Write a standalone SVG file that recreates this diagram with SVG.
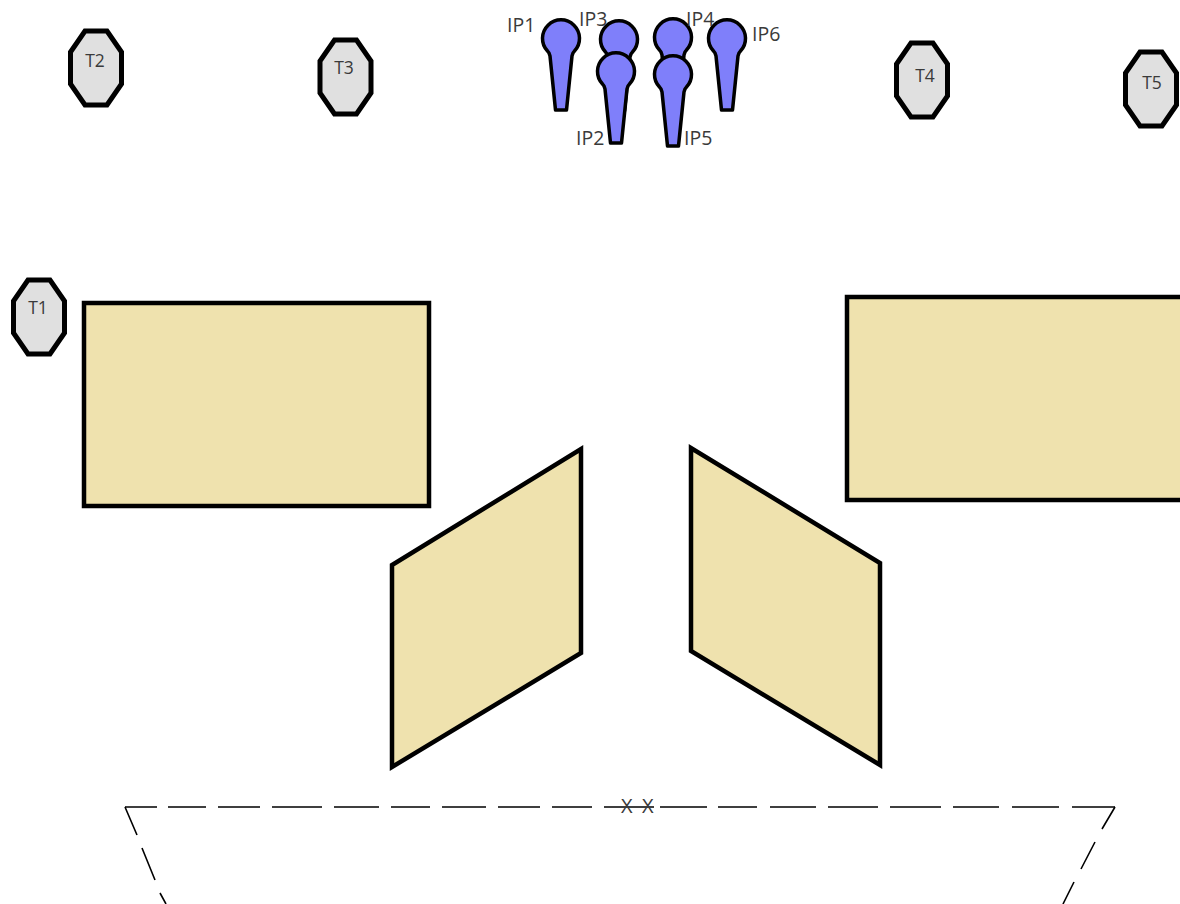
<svg xmlns="http://www.w3.org/2000/svg" width="1180" height="904" viewBox="0 0 1180 904">
<defs>
<style>
text{font-family:"Open Sans","Noto Sans","Liberation Sans",sans-serif;font-size:17.500px;fill:#3a3a3a}
.ip{font-size:19.500px}
.x{font-size:20px}
.oct{fill:#e0e0e0;stroke:#000;stroke-width:5}
.tbl{fill:#efe2ae;stroke:#000;stroke-width:4.5}
.mic{fill:#7f7ffa;stroke:#000;stroke-width:3.500;stroke-linejoin:round}
.dash{fill:none;stroke:#000;stroke-width:1.600}
</style>
<polygon id="o" class="oct" points="-11,-37 11,-37 25.500,-16 25.500,16 11,37 -11,37 -25.500,16 -25.500,-16"/>
<path id="m1" class="mic" d="M-11,18 L-12,15 L-13.500,13 A18.500,18.500 0 1 1 13.500,13 L12,15 L11,18 L5.500,72 L-5.500,72 Z"/>
</defs>
<rect width="1180" height="904" fill="#fff"/>
<g id="T2"><use href="#o" x="96" y="68"/><text x="95" y="67" text-anchor="middle">T2</text></g>
<g id="T3"><use href="#o" x="345.500" y="77"/><text x="344" y="74" text-anchor="middle">T3</text></g>
<g id="T4"><use href="#o" x="922" y="80"/><text x="925" y="82" text-anchor="middle">T4</text></g>
<g id="T5"><use href="#o" x="1151" y="89"/><text x="1152" y="89" text-anchor="middle">T5</text></g>
<g id="T1"><use href="#o" x="39" y="317"/><text x="38" y="314" text-anchor="middle">T1</text></g>
<g id="IP3"><use href="#m1" x="619" y="39"/></g>
<g id="IP4"><use href="#m1" x="673" y="37"/></g>
<g id="IP1"><use href="#m1" x="561" y="38"/><text class="ip" x="507" y="32">IP1</text></g>
<g id="IP6"><use href="#m1" x="727" y="38"/><text class="ip" x="752" y="41">IP6</text></g>
<g id="IP2"><use href="#m1" x="616" y="71"/></g>
<g id="IP5"><use href="#m1" x="673" y="74"/></g>
<text class="ip" x="579" y="26">IP3</text><text class="ip" x="686" y="26">IP4</text><text class="ip" x="576" y="145">IP2</text><text class="ip" x="684" y="145">IP5</text>
<g id="table1"><rect class="tbl" x="84" y="303" width="345" height="203"/></g>
<g id="table2"><rect class="tbl" x="847" y="297" width="340" height="203"/></g>
<g id="table3"><polygon class="tbl" points="581,449 581,653 392,767 392,565"/></g>
<g id="table4"><polygon class="tbl" points="691,448 691,651 880,765 880,563"/></g>
<g id="connectors">
<path class="dash" d="M125,807H157M168,807H206M218,807H260M272,807H322M334,807H379M391,807H430M442,807H486M498,807H540M552,807H592M604,807H654M660,807H707M718,807H757M770,807H816M828,807H878M890,807H941M953,807H999M1012,807H1059M1072,807H1115"/>
<path class="dash" d="M125,807L137,835M142,848L155,880M160,893L166,904M1115,807L1102,829M1095,842L1081,869M1074,882L1063,904"/>
</g>
<text class="x" x="621" y="813">X</text><text class="x" x="642" y="813">X</text>
</svg>
